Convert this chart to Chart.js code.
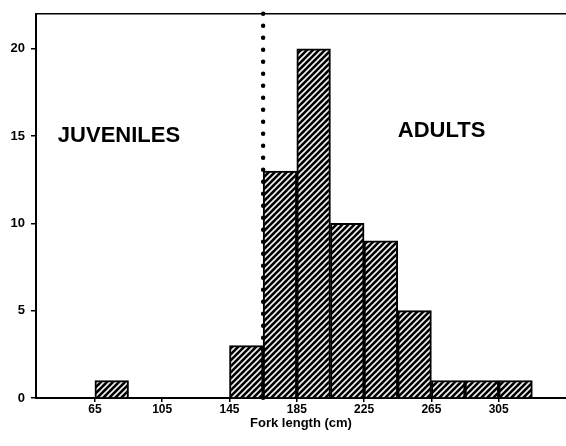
<!DOCTYPE html>
<html>
<head>
<meta charset="utf-8">
<script src="https://cdn.jsdelivr.net/npm/chart.js@4/dist/chart.umd.min.js"></script>
<style>
  html, body { margin: 0; padding: 0; background: #fff; }
  #wrap { width: 566px; height: 446px; }
</style>
</head>
<body>
<div id="wrap"><canvas id="c" width="566" height="446"></canvas></div>
<script>
// Fork-length frequency histogram (20 cm bins)
const binStarts = [65, 145, 165, 185, 205, 225, 245, 265, 285, 305];
const counts    = [1, 3, 13, 20, 10, 9, 5, 1, 1, 1];
const binWidth  = 20;
const xTickValues = [65, 105, 145, 185, 225, 265, 305];
const yTickValues = [0, 5, 10, 15, 20];
const maturityCut = 165;           // juvenile / adult boundary
const groupLabels = [
  { text: 'JUVENILES', x: 43, y: 15 },
  { text: 'ADULTS',    x: 245, y: 15.3 }
];
const xTitle = 'Fork length (cm)';

// diagonal hatch fill
function makeHatch() {
  const s = 6;
  const p = document.createElement('canvas');
  p.width = s; p.height = s;
  const g = p.getContext('2d');
  g.fillStyle = '#000';
  g.fillRect(0, 0, s, s);
  g.strokeStyle = '#f4f4f4';
  g.lineWidth = 1.6;
  g.beginPath();
  g.moveTo(-1, s + 1); g.lineTo(s + 1, -1);
  g.moveTo(-1, 1); g.lineTo(1, -1);
  g.moveTo(s - 1, s + 1); g.lineTo(s + 1, s - 1);
  g.stroke();
  return g.createPattern(p, 'repeat');
}
const hatch = makeHatch();

const points = binStarts.map((s, i) => ({ x: s + binWidth / 2, y: counts[i] }));

const overlay = {
  id: 'overlay',
  afterDatasetsDraw(chart) {
    const { ctx, chartArea, scales } = chart;
    ctx.save();
    // top frame line
    ctx.strokeStyle = '#000';
    ctx.lineWidth = 1.5;
    ctx.beginPath();
    ctx.moveTo(chartArea.left, chartArea.top);
    ctx.lineTo(chartArea.right, chartArea.top);
    ctx.stroke();
    // dotted boundary line
    const xc = scales.x.getPixelForValue(maturityCut);
    ctx.lineWidth = 4.5;
    ctx.lineCap = 'round';
    ctx.setLineDash([0, 12]);
    ctx.beginPath();
    ctx.moveTo(xc, chartArea.top);
    ctx.lineTo(xc, scales.y.getPixelForValue(0));
    ctx.stroke();
    ctx.setLineDash([]);
    // group labels
    ctx.fillStyle = '#000';
    ctx.font = 'bold 22px "Liberation Sans", Arial, sans-serif';
    ctx.textAlign = 'left';
    ctx.textBaseline = 'middle';
    groupLabels.forEach(l => {
      ctx.fillText(l.text, scales.x.getPixelForValue(l.x), scales.y.getPixelForValue(l.y));
    });
    ctx.restore();
  }
};

new Chart(document.getElementById('c'), {
  type: 'bar',
  data: {
    datasets: [{
      data: points,
      backgroundColor: hatch,
      borderColor: '#000',
      borderWidth: 2,
      barPercentage: 1,
      categoryPercentage: 1
    }]
  },
  options: {
    responsive: false,
    animation: false,
    devicePixelRatio: 1,
    layout: { padding: { top: 12, right: 0, left: 0, bottom: 0 } },
    plugins: { legend: { display: false }, tooltip: { enabled: false } },
    scales: {
      x: {
        type: 'linear',
        offset: false,
        min: 30,
        max: 345,
        afterBuildTicks: s => { s.ticks = xTickValues.map(v => ({ value: v })); },
        afterFit: s => { s.height = 48; },
        grid: { offset: false, drawOnChartArea: false, drawTicks: true, tickLength: 4, color: '#000', lineWidth: 1.5 },
        border: { display: true, color: '#000', width: 2 },
        ticks: {
          autoSkip: false, maxRotation: 0, padding: 0, color: '#000',
          font: { family: '"Liberation Sans", Arial, sans-serif', size: 12, weight: 'bold' }
        },
        title: {
          display: true, text: xTitle, color: '#000',
          padding: { top: 0, bottom: 15 },
          font: { family: '"Liberation Sans", Arial, sans-serif', size: 13, weight: 'bold' }
        }
      },
      y: {
        min: 0,
        max: 22,
        afterBuildTicks: s => { s.ticks = yTickValues.map(v => ({ value: v })); },
        afterFit: s => { s.width = 36; },
        grid: { drawOnChartArea: false, drawTicks: true, tickLength: 5, color: '#000', lineWidth: 1.5 },
        border: { display: true, color: '#000', width: 2 },
        ticks: {
          padding: 6, color: '#000',
          font: { family: '"Liberation Sans", Arial, sans-serif', size: 13, weight: 'bold' }
        }
      }
    }
  },
  plugins: [overlay]
});
</script>
</body>
</html>
